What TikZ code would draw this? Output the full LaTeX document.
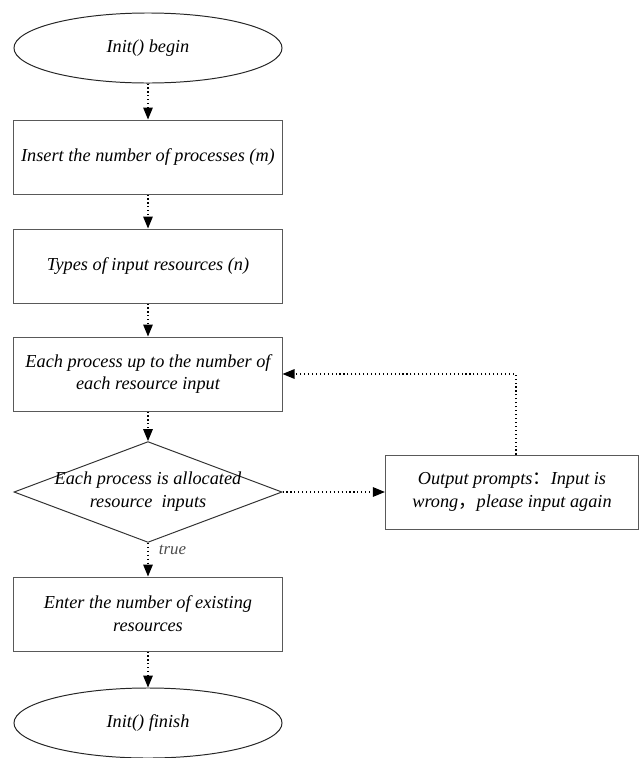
\documentclass[tikz,border=0pt]{standalone}
\usepackage{fontspec}
\setmainfont{Liberation Serif}
\newfontfamily\cjk{Noto Sans CJK SC}
\usetikzlibrary{positioning,shapes.geometric,arrows.meta}

\begin{document}
\begin{tikzpicture}[
    x=0.025cm, y=-0.025cm,
    txt/.style={align=center, font=\fontsize{13}{16.3}\selectfont\itshape},
    stepbox/.style={txt, draw=black!65, line width=0.7pt, minimum width=6.7cm, minimum height=1.85cm},
    termnode/.style={txt, ellipse, draw=black!85, line width=0.7pt, minimum width=6.7cm, minimum height=1.75cm},
    checknode/.style={diamond, draw=black!80, line width=0.7pt, inner sep=0pt, minimum width=6.7cm, minimum height=2.52cm},
    flow/.style={-{Triangle[length=0.3cm, width=0.24cm]}, dotted, line width=0.8pt},
    truelbl/.style={font=\fontsize{12}{14}\selectfont\itshape, text=black!70},
]
\useasboundingbox (0,0) rectangle (642,758);
% main column
\node[termnode] (begin) at (148,48) {Init() begin};
\node[stepbox] (insert) at (148,157) {Insert the number of processes (m)};
\node[stepbox] (types) at (148,266) {Types of input resources (n)};
\node[stepbox] (each) at (148,374) {Each process up to the number of\\each resource input};
\node[checknode] (check) at (148,492) {};
\node[txt] (checktxt) at (check.center) {Each process is allocated\\resource~ inputs};
\node[stepbox] (exist) at (148,614) {Enter the number of existing\\resources};
\node[termnode] (finish) at (148,723) {Init() finish};
% error branch
\node[stepbox, minimum width=6.33cm] (prompt) at (512,492) {Output prompts{\cjk ：}Input is\\wrong{\cjk ，}please input again};
\coordinate (loop) at (516,374);

\draw[flow] (begin) -- (insert);
\draw[flow] (insert) -- (types);
\draw[flow] (types) -- (each);
\draw[flow] (each) -- (check);
\draw[flow] (check.south) -- node[truelbl, right, pos=0.22, xshift=4pt] (truetxt) {true} (exist.north);
\draw[flow] (exist) -- (finish);
\draw[flow] (check.east) -- (prompt.west);
\draw[flow] (prompt.north -| loop) -- (loop) -- (each.east);
\end{tikzpicture}
\end{document}
